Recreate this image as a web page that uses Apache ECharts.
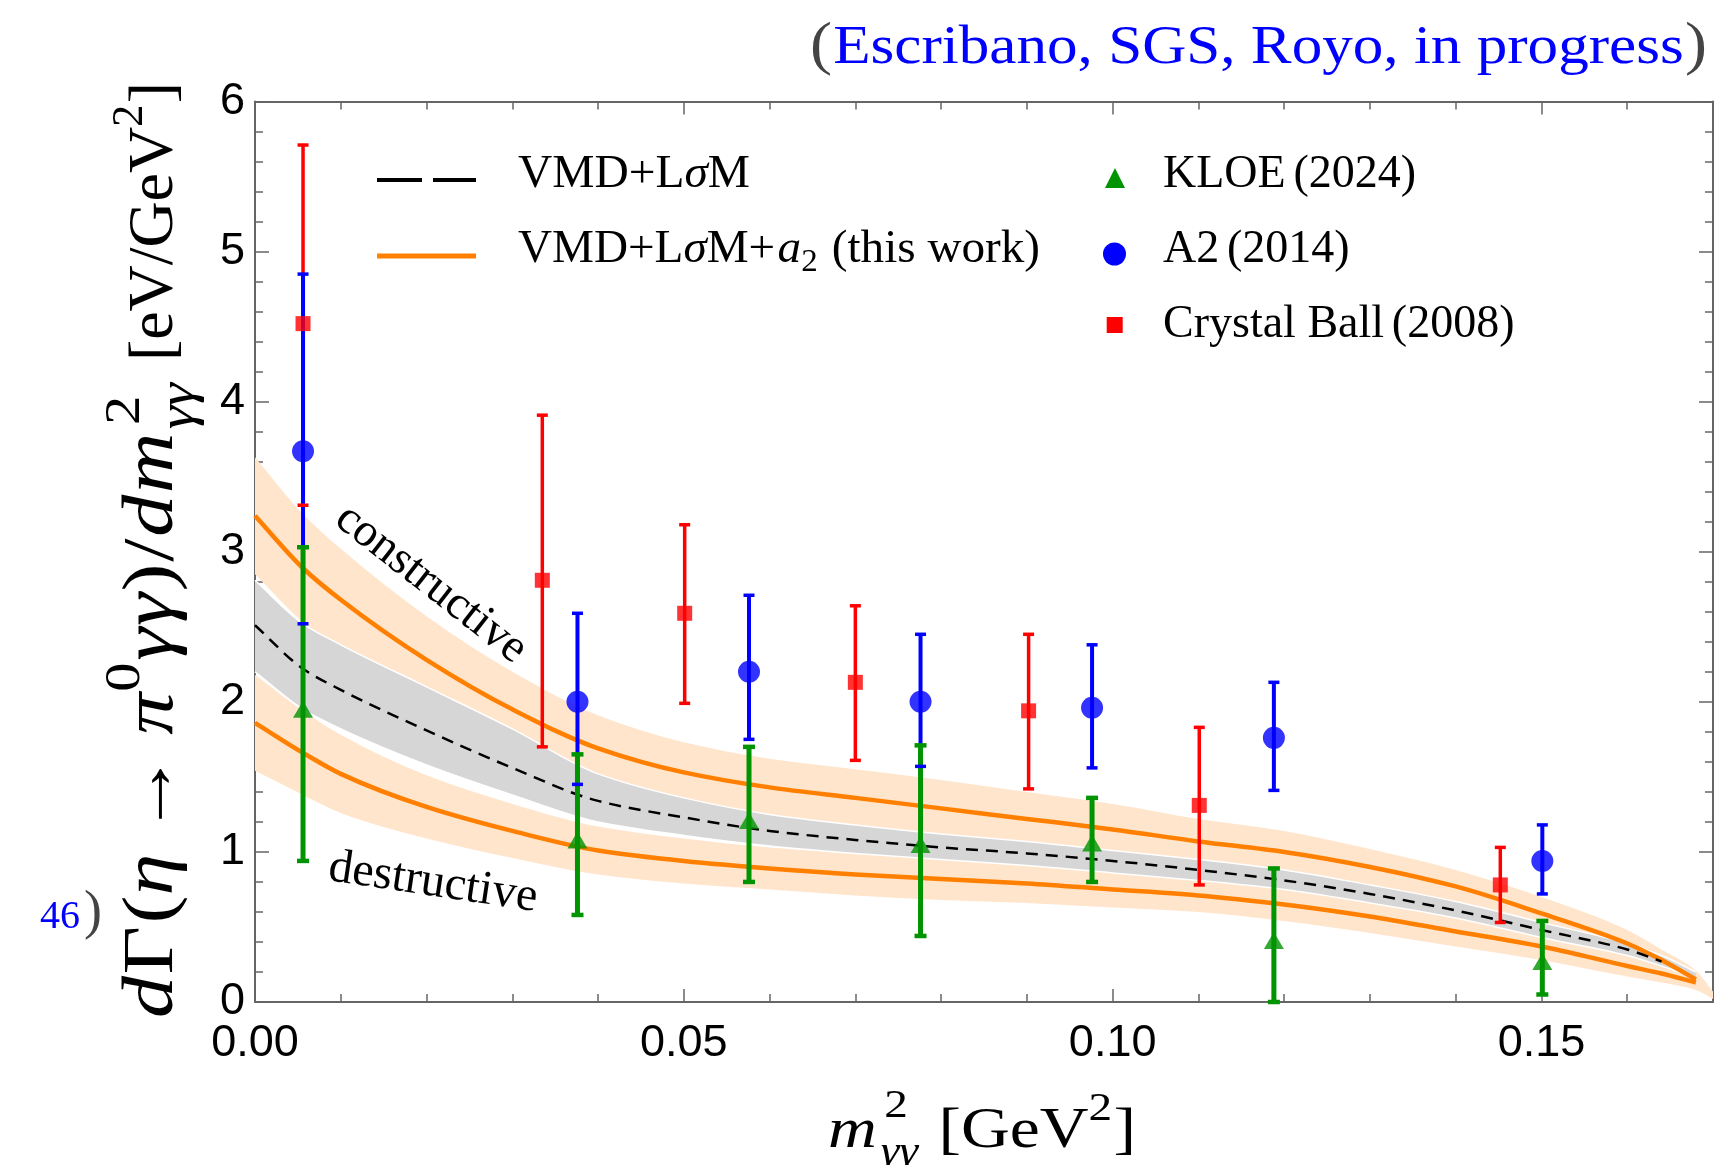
<!DOCTYPE html>
<html><head><meta charset="utf-8">
<script src="https://cdn.jsdelivr.net/npm/echarts@6/dist/echarts.min.js"></script>
<style>html,body{margin:0;padding:0;background:#fff}#chart{width:1716px;height:1165px}</style>
</head><body><div id="chart"></div>
<script>
// ---------------- data ----------------
const curveX = [0, 0.0056, 0.01, 0.02, 0.03, 0.04, 0.05, 0.06, 0.07, 0.08, 0.09, 0.10, 0.11, 0.12, 0.13, 0.14, 0.15, 0.16, 0.164, 0.168, 0.17];
const constructiveLine = [3.24, 2.89, 2.68, 2.28, 1.95, 1.69, 1.53, 1.43, 1.36, 1.29, 1.22, 1.15, 1.07, 1.00, 0.90, 0.77, 0.59, 0.39, 0.28, 0.15, null];
const constructiveHi   = [3.63, 3.25, 3.02, 2.57, 2.20, 1.91, 1.73, 1.62, 1.55, 1.48, 1.40, 1.32, 1.22, 1.14, 1.02, 0.88, 0.70, 0.48, 0.35, 0.21, 0.07];
const constructiveLo   = [2.85, 2.53, 2.34, 1.99, 1.70, 1.47, 1.33, 1.24, 1.17, 1.10, 1.04, 0.98, 0.92, 0.86, 0.78, 0.66, 0.48, 0.30, 0.21, 0.10, 0.03];
const destructiveLine  = [1.86, 1.66, 1.52, 1.30, 1.14, 1.01, 0.94, 0.89, 0.85, 0.82, 0.79, 0.75, 0.71, 0.65, 0.57, 0.47, 0.37, 0.24, 0.19, 0.13, null];
const destructiveHi    = [2.18, 1.94, 1.78, 1.51, 1.32, 1.17, 1.09, 1.03, 0.99, 0.96, 0.92, 0.87, 0.82, 0.76, 0.68, 0.57, 0.46, 0.31, 0.25, 0.18, 0.06];
const destructiveLo    = [1.54, 1.38, 1.26, 1.09, 0.96, 0.85, 0.79, 0.75, 0.71, 0.68, 0.66, 0.63, 0.60, 0.54, 0.46, 0.37, 0.28, 0.17, 0.13, 0.08, 0.02];
const vmdLine          = [2.51, 2.22, 2.08, 1.81, 1.56, 1.34, 1.23, 1.14, 1.08, 1.03, 0.99, 0.94, 0.88, 0.81, 0.72, 0.61, 0.48, 0.35, 0.27, null, null];
const vmdHi            = [2.81, 2.52, 2.38, 2.10, 1.82, 1.52, 1.36, 1.25, 1.18, 1.12, 1.07, 1.01, 0.95, 0.88, 0.78, 0.67, 0.53, 0.39, 0.31, 0.20, null];
const vmdLo            = [2.20, 1.95, 1.82, 1.58, 1.38, 1.20, 1.11, 1.04, 0.99, 0.95, 0.91, 0.86, 0.81, 0.75, 0.66, 0.56, 0.43, 0.31, 0.24, 0.16, null];

const kloeX  = [0.0056, 0.0376, 0.0576, 0.0776, 0.0976, 0.1188, 0.1501];
const kloeY  = [1.95, 1.08, 1.21, 1.05, 1.06, 0.41, 0.27];
const kloeLo = [0.94, 0.58, 0.80, 0.44, 0.80, 0.00, 0.05];
const kloeHi = [3.03, 1.65, 1.70, 1.71, 1.36, 0.89, 0.54];

const a2X  = [0.0056, 0.0376, 0.0576, 0.0776, 0.0976, 0.1188, 0.1501];
const a2Y  = [3.67, 2.00, 2.20, 2.00, 1.96, 1.76, 0.94];
const a2Lo = [2.52, 1.45, 1.75, 1.57, 1.56, 1.41, 0.72];
const a2Hi = [4.85, 2.59, 2.71, 2.45, 2.38, 2.13, 1.18];

const cbX  = [0.0056, 0.0335, 0.0501, 0.0700, 0.0902, 0.1101, 0.1452];
const cbY  = [4.52, 2.81, 2.59, 2.13, 1.94, 1.31, 0.78];
const cbLo = [3.31, 1.70, 1.99, 1.61, 1.42, 0.78, 0.53];
const cbHi = [5.71, 3.91, 3.18, 2.64, 2.45, 1.83, 1.03];

const xTickLabels = ['0.00', '0.05', '0.10', '0.15'];
const yTickLabels = ['0', '1', '2', '3', '4', '5', '6'];

// ---------------- styling ----------------
const SANS = '"Liberation Sans", Arial, Helvetica, sans-serif';
const SERIF = '"Liberation Serif", "DejaVu Serif", serif';
const GREEN = '#009400', BLUE = '#0000ff', RED = '#ff0000', ORANGE = '#ff8000';
const ORANGE_BAND = '#ffe5cc', GRAY_BAND = '#d6d6d6', FRAME = '#666666';

// ---------------- text layout helpers ----------------
const mctx = document.createElement('canvas').getContext('2d');
function fnt(size, it) { return (it ? 'italic ' : '') + size.toFixed(2) + 'px ' + SERIF; }
function textW(t, size, it) { mctx.font = fnt(size, it); return mctx.measureText(t).width; }
function baseOff(size, it) {
  mctx.font = fnt(size, it); mctx.textBaseline = 'middle';
  const d = mctx.measureText('x').actualBoundingBoxDescent; mctx.textBaseline = 'alphabetic';
  return (isFinite(d) && d > 0) ? d : 0.3 * size;
}
function mathRow(tokens, F, fill) {
  let x = 0; const kids = [];
  function mk(tok, px, s) {
    return { type: 'text', x: px, y: (tok.dy || 0) * F - baseOff(s, tok.it),
      style: { text: tok.t, font: fnt(s, tok.it), fill: tok.fill || fill, align: 'left', verticalAlign: 'middle', textAlign: 'left', textVerticalAlign: 'middle' } };
  }
  tokens.forEach(tok => {
    x += (tok.pre || 0) * F;
    if (tok.stack) {
      let w = 0;
      tok.stack.forEach(st => { const s = (st.s || 1) * F; w = Math.max(w, textW(st.t, s, st.it) + (st.dx || 0) * F); kids.push(mk(st, x + (st.dx || 0) * F, s)); });
      x += w;
    } else {
      const s = (tok.s || 1) * F;
      kids.push(mk(tok, x, s));
      x += textW(tok.t, s, tok.it);
    }
    x += (tok.post || 0) * F;
  });
  return { children: kids, width: x };
}

// ---------------- curve path helpers ----------------
function monoSegs(p) {
  const n = p.length, dx = [], dy = [], m = [], t = [], segs = [];
  for (let i = 0; i < n - 1; i++) { dx[i] = p[i + 1][0] - p[i][0]; dy[i] = p[i + 1][1] - p[i][1]; m[i] = dy[i] / dx[i]; }
  t[0] = m[0]; t[n - 1] = m[n - 2];
  for (let i = 1; i < n - 1; i++) {
    if (m[i - 1] * m[i] <= 0) t[i] = 0;
    else { const w1 = 2 * dx[i] + dx[i - 1], w2 = dx[i] + 2 * dx[i - 1]; t[i] = (w1 + w2) / (w1 / m[i - 1] + w2 / m[i]); }
  }
  for (let i = 0; i < n - 1; i++) {
    const h = dx[i] / 3;
    segs.push([p[i][0] + h, p[i][1] + t[i] * h, p[i + 1][0] - h, p[i + 1][1] - t[i + 1] * h, p[i + 1][0], p[i + 1][1]]);
  }
  return segs;
}
function pathFrom(p, move) {
  let d = (move ? 'M' : 'L') + p[0][0].toFixed(2) + ',' + p[0][1].toFixed(2);
  monoSegs(p).forEach(s => { d += 'C' + s.map(v => v.toFixed(2)).join(','); });
  return d;
}
function bandSeries(name, xs, lo, hi, fill, z) {
  return { type: 'custom', name, silent: true, z,
    data: xs.map((x, i) => [x, lo[i], hi[i]]), encode: { x: 0, y: [1, 2] },
    renderItem(params, api) {
      if (params.dataIndexInside !== 0) return null;
      const up = [], dn = [];
      for (let i = 0; i < params.dataInsideLength; i++) {
        const x = api.value(0, i), l = api.value(1, i), h = api.value(2, i);
        if (!isFinite(l) || !isFinite(h)) continue;
        up.push(api.coord([x, h])); dn.push(api.coord([x, l]));
      }
      const d = pathFrom(up, true) + pathFrom(dn.reverse(), false) + 'Z';
      return { type: 'path', shape: { pathData: d }, style: { fill, stroke: 'none' } };
    } };
}
function curveSeries(name, xs, ys, stroke, width, dash, z) {
  return { type: 'custom', name, silent: true, z,
    data: xs.map((x, i) => [x, ys[i]]), encode: { x: 0, y: 1 },
    renderItem(params, api) {
      if (params.dataIndexInside !== 0) return null;
      const pts = [];
      for (let i = 0; i < params.dataInsideLength; i++) {
        const x = api.value(0, i), y = api.value(1, i);
        if (!isFinite(y)) continue;
        pts.push(api.coord([x, y]));
      }
      return { type: 'path', shape: { pathData: pathFrom(pts, true) },
        style: { fill: 'none', stroke, lineWidth: width, lineDash: dash || null, lineCap: 'butt', lineJoin: 'round' } };
    } };
}
function errBarSeries(name, xs, lo, hi, color, width, z) {
  return { type: 'custom', name, silent: true, z,
    data: xs.map((x, i) => [x, lo[i], hi[i]]), encode: { x: 0, y: [1, 2] },
    renderItem(params, api) {
      const a = api.coord([api.value(0), api.value(1)]), b = api.coord([api.value(0), api.value(2)]);
      return { type: 'line', shape: { x1: a[0], y1: a[1], x2: b[0], y2: b[1] }, style: { stroke: color, lineWidth: width } };
    } };
}
function capSeries(name, xs, lo, hi, color, capW, thick, z) {
  return { type: 'custom', name, silent: true, z,
    data: xs.map((x, i) => [x, lo[i], hi[i]]), encode: { x: 0, y: [1, 2] },
    renderItem(params, api) {
      const a = api.coord([api.value(0), api.value(1)]), b = api.coord([api.value(0), api.value(2)]);
      return { type: 'group', children: [
        { type: 'line', shape: { x1: a[0] - capW / 2, y1: a[1], x2: a[0] + capW / 2, y2: a[1] }, style: { stroke: color, lineWidth: thick } },
        { type: 'line', shape: { x1: b[0] - capW / 2, y1: b[1], x2: b[0] + capW / 2, y2: b[1] }, style: { stroke: color, lineWidth: thick } }
      ] };
    } };
}

// ---------------- axes ----------------
const near = (v, step) => Math.abs(v / step - Math.round(v / step)) < 1e-6;
const tickStyle = { color: FRAME, width: 1.5 };
function xAx(pos, interval, len, showLine, showLabel) {
  return { type: 'value', position: pos, min: 0, max: 0.17, interval,
    axisLine: { show: showLine, onZero: false, lineStyle: { color: FRAME, width: 2 } },
    axisTick: { show: true, inside: true, length: len, lineStyle: tickStyle },
    axisLabel: { show: showLabel, margin: 19, fontSize: 45, fontFamily: SANS, color: '#000',
      formatter: v => (near(v, 0.05) && v < 0.165) ? xTickLabels[Math.round(v / 0.05)] : '' },
    splitLine: { show: false } };
}
function yAx(pos, interval, len, showLine, showLabel) {
  return { type: 'value', position: pos, min: 0, max: 6, interval,
    axisLine: { show: showLine, onZero: false, lineStyle: { color: FRAME, width: 2 } },
    axisTick: { show: true, inside: true, length: len, lineStyle: tickStyle },
    axisLabel: { show: showLabel, margin: 10, fontSize: 45, fontFamily: SANS, color: '#000',
      formatter: v => near(v, 1) ? yTickLabels[Math.round(v)] : '' },
    splitLine: { show: false } };
}

// ---------------- graphic: texts & legend ----------------
const graphics = [];
// place a math row; if fitLen is given, stretch it along its baseline to that length
function addRow(tokens, F, fill, x, y, opt) {
  opt = opt || {};
  const r = mathRow(tokens, F, fill);
  const sx = opt.fitLen ? opt.fitLen / r.width : 1;
  const w = r.width * sx;
  graphics.push({ type: 'group', x: opt.right ? x - w : x, y, rotation: opt.rotation || 0, scaleX: sx, children: r.children, silent: true });
  return w;
}
// top-right citation (spans x 810 .. 1707)
addRow([{ t: '(', s: 1.08, fill: '#444' }, { t: 'Escribano, SGS, Royo, in progress', fill: BLUE, pre: 0.02 }, { t: ')', s: 1.08, fill: '#444', pre: 0.02 }],
  54, BLUE, 810, 63, { fitLen: 897 });
// clipped fragment at left
addRow([{ t: '46', fill: BLUE }, { t: ')', s: 1.35, fill: '#444', pre: 0.1 }], 40, BLUE, 40, 928);
// y-axis title, main part (from y=1018 up to y=383)
addRow([
  { t: 'd', it: true, post: 0.02 }, { t: 'Γ', post: 0.01 }, { t: '(', pre: 0.02 }, { t: 'η', it: true, post: 0.02 }, { t: '→', pre: 0.2, post: 0.2 },
  { t: 'π', it: true, post: 0.01 }, { t: '0', s: 0.7, dy: -0.47, post: 0.02 }, { t: 'γ', it: true, post: 0.02 }, { t: 'γ', it: true, post: 0.02 },
  { t: ')' }, { t: '/', pre: 0.02, post: 0.02 }, { t: 'd', it: true, post: 0.02 }, { t: 'm', it: true, post: 0.04 },
  { stack: [{ t: '2', s: 0.7, dy: -0.47, dx: 0.05 }, { t: 'γγ', s: 0.7, it: true, dy: 0.3 }] }
], 71, '#000', 172, 1018, { rotation: Math.PI / 2, fitLen: 635 });
// y-axis title, unit part (from y=361 up to y=82)
addRow([{ t: '[eV/GeV' }, { t: '2', s: 0.7, dy: -0.47, post: 0.02 }, { t: ']' }], 64, '#000', 172, 361, { rotation: Math.PI / 2, fitLen: 279 });
// x-axis title (x 828 .. 1136)
addRow([{ t: 'm', it: true, post: 0.06 }, { stack: [{ t: '2', s: 0.7, dy: -0.52, dx: 0.05 }, { t: 'γγ', s: 0.7, it: true, dy: 0.3 }] },
  { t: '[GeV', pre: 0.3 }, { t: '2', s: 0.7, dy: -0.47, post: 0.02 }, { t: ']' }], 58, '#000', 828, 1147, { fitLen: 308 });
// legend left column
addRow([{ t: 'VMD+L' }, { t: 'σ', it: true }, { t: 'M' }], 46, '#000', 518, 186.7, { fitLen: 232 });
addRow([{ t: 'VMD+L' }, { t: 'σ', it: true }, { t: 'M+' }, { t: 'a', it: true, pre: 0.05 }, { t: '2', s: 0.7, dy: 0.2 }, { t: '(this work)', pre: 0.3 }],
  46, '#000', 518, 261.7, { fitLen: 522 });
graphics.push({ type: 'line', shape: { x1: 377, y1: 180, x2: 476, y2: 180 }, style: { stroke: '#000', lineWidth: 4, lineDash: [45, 11] }, silent: true });
graphics.push({ type: 'line', shape: { x1: 377, y1: 256, x2: 476, y2: 256 }, style: { stroke: ORANGE, lineWidth: 5 }, silent: true });
// legend right column
addRow([{ t: 'KLOE' }, { t: '(2024)', pre: 0.17 }], 46, '#000', 1163, 186.7);
addRow([{ t: 'A2' }, { t: '(2014)', pre: 0.17 }], 46, '#000', 1163, 261.7);
addRow([{ t: 'Crystal Ball' }, { t: '(2008)', pre: 0.17 }], 46, '#000', 1163, 336.7);
graphics.push({ type: 'polygon', shape: { points: [[1115, 168], [1125, 188], [1105, 188]] }, style: { fill: GREEN }, silent: true });
graphics.push({ type: 'circle', shape: { cx: 1114.5, cy: 254, r: 11.5 }, style: { fill: BLUE }, silent: true });
graphics.push({ type: 'rect', shape: { x: 1106.7, y: 317, width: 16, height: 16 }, style: { fill: RED }, silent: true });
// annotations
graphics.push({ type: 'text', x: 431, y: 584, rotation: -38 * Math.PI / 180, silent: true,
  style: { text: 'constructive', font: '47px ' + SERIF, fill: '#000', align: 'center', verticalAlign: 'middle', textAlign: 'center', textVerticalAlign: 'middle' } });
graphics.push({ type: 'text', x: 433, y: 883, rotation: -8.5 * Math.PI / 180, silent: true,
  style: { text: 'destructive', font: '48px ' + SERIF, fill: '#000', align: 'center', verticalAlign: 'middle', textAlign: 'center', textVerticalAlign: 'middle' } });

// ---------------- chart ----------------
const chart = echarts.init(document.getElementById('chart'), null, { renderer: 'canvas' });
chart.setOption({
  animation: false,
  backgroundColor: '#fff',
  grid: { left: 255, right: 2, top: 101.5, bottom: 163, containLabel: false },
  xAxis: [xAx('bottom', 0.01, 8, true, true), xAx('bottom', 0.05, 13, false, false), xAx('top', 0.01, 8, true, false), xAx('top', 0.05, 13, false, false)],
  yAxis: [yAx('left', 0.2, 8, true, true), yAx('left', 1, 14, false, false), yAx('right', 0.2, 8, true, false), yAx('right', 1, 14, false, false)],
  series: [
    bandSeries('constructive band', curveX, constructiveLo, constructiveHi, ORANGE_BAND, 1),
    bandSeries('destructive band', curveX, destructiveLo, destructiveHi, ORANGE_BAND, 1),
    bandSeries('VMD band', curveX, vmdLo, vmdHi, GRAY_BAND, 1),
    curveSeries('VMD band upper edge', curveX, vmdHi, '#ffffff', 1.5, null, 1),
    curveSeries('VMD band lower edge', curveX, vmdLo, '#ffffff', 1.5, null, 1),
    curveSeries('VMD+LσM+a2 constructive', curveX, constructiveLine, ORANGE, 4.5, null, 2),
    curveSeries('VMD+LσM+a2 destructive', curveX, destructiveLine, ORANGE, 4.5, null, 2),
    curveSeries('VMD+LσM', curveX, vmdLine, '#000', 2.5, [12, 8], 2),
    errBarSeries('Crystal Ball bars', cbX, cbLo, cbHi, RED, 3.5, 3),
    errBarSeries('A2 bars', a2X, a2Lo, a2Hi, BLUE, 4, 3),
    errBarSeries('KLOE bars', kloeX, kloeLo, kloeHi, GREEN, 5, 3),
    capSeries('KLOE caps', kloeX, kloeLo, kloeHi, GREEN, 12, 4.5, 4),
    capSeries('A2 caps', a2X, a2Lo, a2Hi, BLUE, 11, 3.5, 4),
    capSeries('Crystal Ball caps', cbX, cbLo, cbHi, RED, 11, 3.5, 4),
    { type: 'scatter', name: 'Crystal Ball (2008)', symbol: 'rect', symbolSize: 15, itemStyle: { color: RED }, z: 5, silent: true,
      data: cbX.map((x, i) => [x, cbY[i]]) },
    { type: 'scatter', name: 'A2 (2014)', symbol: 'circle', symbolSize: 22, itemStyle: { color: BLUE }, z: 5, silent: true,
      data: a2X.map((x, i) => [x, a2Y[i]]) },
    { type: 'scatter', name: 'KLOE (2024)', symbol: 'triangle', symbolSize: [20, 17], itemStyle: { color: GREEN }, z: 5, silent: true,
      data: kloeX.map((x, i) => [x, kloeY[i]]) }
  ],
  graphic: { elements: graphics }
});
</script>
</body></html>
